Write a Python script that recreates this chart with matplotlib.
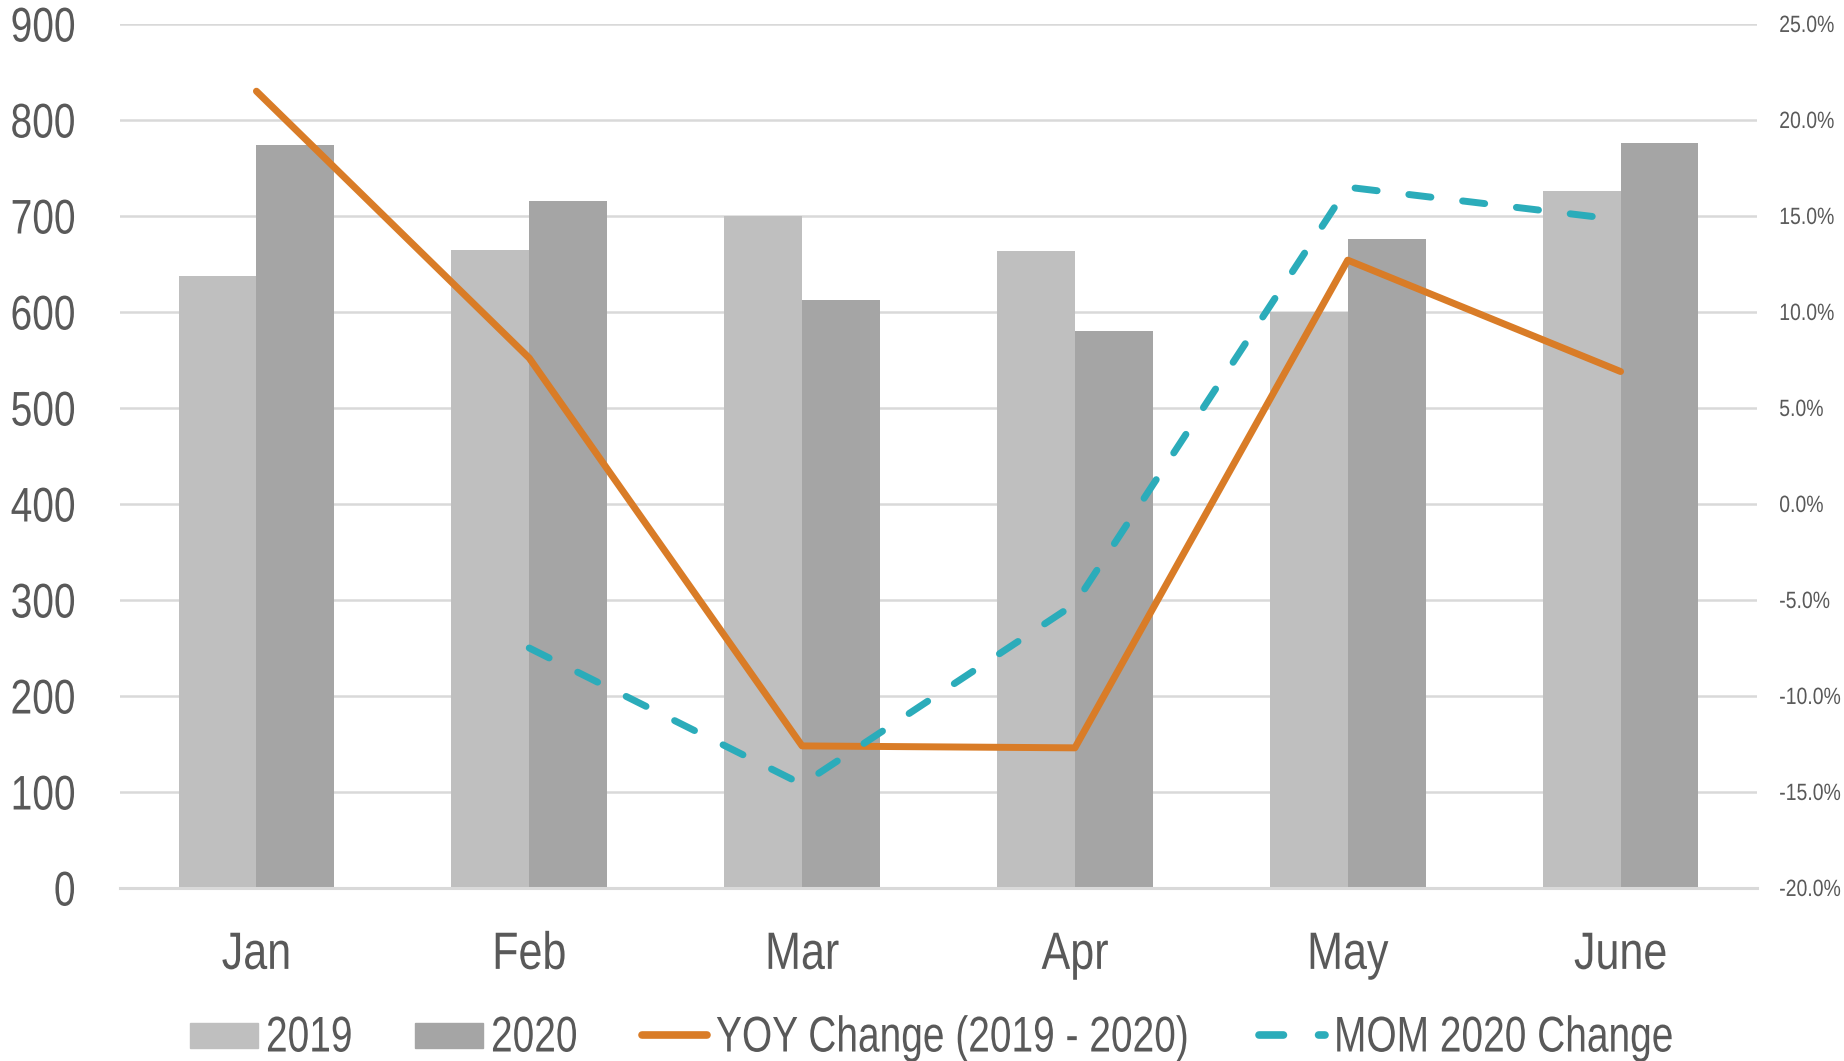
import numpy as np
import matplotlib.pyplot as plt
from matplotlib.lines import Line2D
from matplotlib.patches import Rectangle
from matplotlib.patheffects import AbstractPathEffect
from matplotlib.transforms import Affine2D
from matplotlib.ticker import FuncFormatter

plt.rcParams['font.family'] = ['Liberation Sans', 'DejaVu Sans']

months = ['Jan', 'Feb', 'Mar', 'Apr', 'May', 'June']
sales_2019 = [637, 665, 700, 664, 600, 726]
sales_2020 = [774, 716, 612, 580, 676, 776]
yoy_change = [21.5, 7.6, -12.6, -12.7, 12.7, 6.9]
mom_change = [np.nan, -7.5, -14.6, -5.2, 16.5, 14.8]
legend_labels = ['2019', '2020', 'YOY Change (2019 - 2020)', 'MOM 2020 Change']

text_col = '#595959'
grid_col = '#D9D9D9'
c2019 = '#BFBFBF'
c2020 = '#A5A5A5'
c_yoy = '#D97C27'
c_mom = '#2BACBA'
lw = 5
dash = (0, (3.2, 4.6))


# reference font is a narrow one: draw a smaller font and stretch it upward
class Tall(AbstractPathEffect):
    def __init__(self, sy, y0=0.0):
        super().__init__()
        self.sy = sy
        self.y0 = y0 * 100  # glyph paths use 100 units per em

    def draw_path(self, renderer, gc, tpath, affine, rgbFace=None):
        t = Affine2D().translate(0, -self.y0).scale(1, self.sy).translate(0, self.y0) + affine
        renderer.draw_path(gc, tpath, t, rgbFace)


W, H = 1844, 1061
fig = plt.figure(figsize=(W / 100, H / 100), dpi=100)
ax = fig.add_axes([120 / W, 1 - 888 / H, (1757 - 120) / W, (888 - 24) / H])

x = np.arange(len(months))
w = 0.285
ax.bar(x - w / 2, sales_2019, w, color=c2019, zorder=2)
ax.bar(x + w / 2, sales_2020, w, color=c2020, zorder=2)

ax.set_xlim(-0.5, 5.5)
ax.set_ylim(0, 900)
ax.set_yticks(range(0, 901, 100))
ax.grid(axis='y', color=grid_col, linewidth=1.8, zorder=0)
ax.set_axisbelow(True)
for s in ['top', 'right', 'left']:
    ax.spines[s].set_visible(False)
ax.spines['bottom'].set_color(grid_col)
ax.spines['bottom'].set_linewidth(2.2)
ax.set_xticks(x)
ax.set_xticklabels(months)
ax.tick_params(axis='y', length=0, pad=32, labelsize=28, labelcolor=text_col)
ax.tick_params(axis='x', length=0, pad=31, labelsize=31, labelcolor=text_col)
for lbl in ax.get_yticklabels():
    lbl.set_path_effects([Tall(1.25, 0.36)])
for lbl in ax.get_xticklabels():
    lbl.set_path_effects([Tall(1.22, 0.72)])

ax2 = ax.twinx()
ax2.plot(x, yoy_change, color=c_yoy, linewidth=lw, solid_capstyle='round', solid_joinstyle='round')
ax2.plot(x, mom_change, color=c_mom, linewidth=lw, linestyle=dash, dash_capstyle='round')
ax2.set_ylim(-20, 25)
ax2.set_yticks(range(-20, 26, 5))
ax2.yaxis.set_major_formatter(FuncFormatter(lambda v, p: f'{v:.1f}%'))
ax2.tick_params(axis='y', length=0, pad=16, labelsize=14, labelcolor=text_col)
for s in ax2.spines.values():
    s.set_visible(False)
for lbl in ax2.get_yticklabels():
    lbl.set_path_effects([Tall(1.21, 0.36)])


# legend drawn by hand, placed like the reference
def fx(px):
    return px / W


def fy(py):
    return 1 - py / H


fig.add_artist(Rectangle((fx(190), fy(1048)), fx(258) - fx(190), fy(1023) - fy(1048),
                         transform=fig.transFigure, color=c2019))
fig.add_artist(Rectangle((fx(415), fy(1048)), fx(483) - fx(415), fy(1023) - fy(1048),
                         transform=fig.transFigure, color=c2020))
fig.add_artist(Line2D([fx(642), fx(707)], [fy(1035), fy(1035)], transform=fig.transFigure,
                      color=c_yoy, linewidth=lw + 0.5, solid_capstyle='round'))
fig.add_artist(Line2D([fx(1259), fx(1325)], [fy(1035), fy(1035)], transform=fig.transFigure,
                      color=c_mom, linewidth=lw + 0.5, linestyle=dash, dash_capstyle='round'))
for lx, lab in zip([266, 491, 716, 1334], legend_labels):
    fig.text(fx(lx), fy(1051.5), lab, ha='left', va='baseline', fontsize=28, color=text_col,
             path_effects=[Tall(1.29)])

fig.savefig('out.png', dpi=100)
